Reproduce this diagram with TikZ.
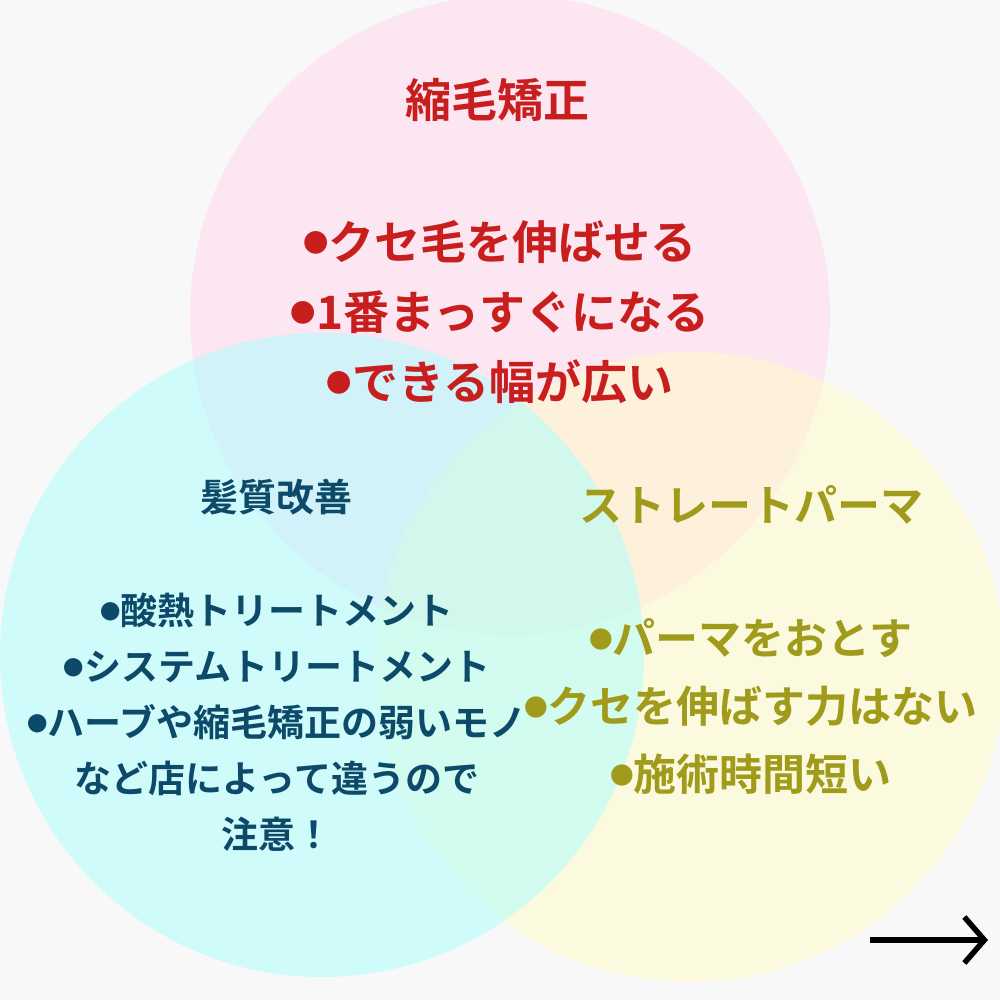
\documentclass[tikz,border=0pt]{standalone}
\usepackage{fontspec}
\newfontfamily\jpfont{Noto Sans CJK JP}[BoldFont={Noto Sans CJK JP Bold}]
\usetikzlibrary{arrows.meta}

\definecolor{bgcol}{HTML}{F8F8F8}
\definecolor{pinkcol}{HTML}{FFD6EE}
\definecolor{cyancol}{HTML}{A8FFFF}
\definecolor{yellowcol}{HTML}{FFFCC8}
\definecolor{redtext}{HTML}{C81E1E}
\definecolor{bluetext}{HTML}{0D4A6A}
\definecolor{olivetext}{HTML}{A09B1A}

\newcommand{\bul}{\raisebox{0.14em}{\scalebox{0.55}{●}}}

\begin{document}
\begin{tikzpicture}[x=1pt, y=-1pt,
		blob/.style={fill opacity=0.5},
		txt/.style={font=\jpfont\bfseries, align=center, inner sep=0pt}]

			\fill[bgcol] (0, 0) rectangle (1000, 1000);
			\clip (0, 0) rectangle (1000, 1000);

			\fill[pinkcol, blob] (510, 315) circle (320);
			\fill[yellowcol, blob] (690, 667) circle (315);
			\fill[cyancol, blob] (322, 655) circle (322);

			\node[txt, redtext, font=\jpfont\bfseries\fontsize{46}{50}\selectfont] (shukumou) at (497, 100) {縮毛矯正};
			\node[txt, redtext, font=\jpfont\bfseries\fontsize{46}{70}\selectfont] (shukumoulist) at (500, 312)
				{\bul クセ毛を伸ばせる\\ \bul 1番まっすぐになる\\ \bul できる幅が広い};

			\node[txt, bluetext, font=\jpfont\bfseries\fontsize{38}{40}\selectfont] (kaizen) at (276, 497) {髪質改善};
			\node[txt, bluetext, font=\jpfont\bfseries\fontsize{37}{56}\selectfont] (kaizenlist) at (277, 722)
				{\bul 酸熱トリートメント\\ \bul システムトリートメント\\ \bul ハーブや縮毛矯正の弱いモノ\\ など店によって違うので\\ 注意！};

			\node[txt, olivetext, font=\jpfont\bfseries\fontsize{43}{48}\selectfont] (perm) at (751, 505) {ストレートパーマ};
			\node[txt, olivetext, font=\jpfont\bfseries\fontsize{43}{68}\selectfont] (permlist) at (751, 706)
				{\bul パーマをおとす\\ \bul クセを伸ばす力はない\\ \bul 施術時間短い};

			\coordinate (tail) at (870, 940);
			\coordinate (tip) at (988, 940);
			\draw[line width=5.5pt, -{Straight Barb[length=20pt, width=46pt, line width=5.5pt]}] (tail) -- (tip);
		\end{tikzpicture}
\end{document}
